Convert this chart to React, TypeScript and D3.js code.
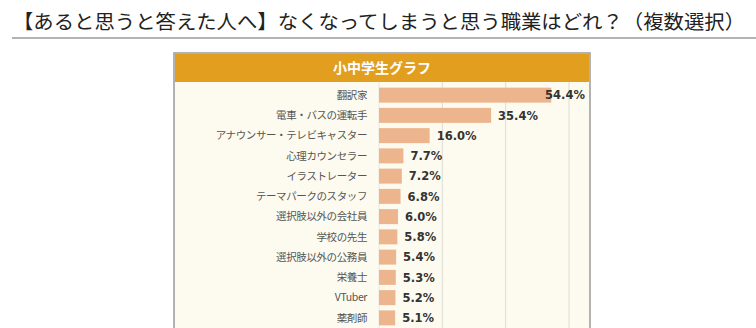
import React from "react";
import * as d3 from "d3";

const title = "【あると思うと答えた人へ】なくなってしまうと思う職業はどれ？（複数選択）";
const panelTitle = "小中学生グラフ";
const categories = [
  "翻訳家",
  "電車・バスの運転手",
  "アナウンサー・テレビキャスター",
  "心理カウンセラー",
  "イラストレーター",
  "テーマパークのスタッフ",
  "選択肢以外の会社員",
  "学校の先生",
  "選択肢以外の公務員",
  "栄養士",
  "VTuber",
  "薬剤師",
];
const values = [54.4, 35.4, 16.0, 7.7, 7.2, 6.8, 6.0, 5.8, 5.4, 5.3, 5.2, 5.1];
const gridTicks = [20, 40, 60];

const W = 756;
const H = 328;
const panelL = 174;
const panelR = 590;
const panelT = 53;
const headerH = 29;

export default function App() {
  const x = d3.scaleLinear().domain([0, 60]).range([379, 569]);
  const y = d3
    .scaleBand<string>()
    .domain(categories)
    .range([85, 85 + 20.25 * categories.length])
    .paddingInner(0.26)
    .paddingOuter(0.13);
  const font = "'Noto Sans CJK JP', 'Noto Sans', sans-serif";
  const numFont = "'DejaVu Sans', Verdana, sans-serif";
  return (
    <svg
      width={W}
      height={H}
      style={{ position: "absolute", left: 0, top: 0, background: "#fff" }}
    >
      <text x={13} y={29} fontFamily={font} fontSize={19.6} fill="#222" textLength={732} lengthAdjust="spacingAndGlyphs">
        {title}
      </text>
      <line x1={12} x2={756} y1={38} y2={38} stroke="#9a9a9a" strokeWidth={1.6} />

      <rect x={panelL} y={panelT} width={panelR - panelL} height={H} fill="#fdfbef" stroke="#a0a0a0" strokeWidth={1.6} />
      <rect x={panelL + 1} y={panelT + 1} width={panelR - panelL - 2} height={headerH - 1} fill="#e19e1f" />
      <text
        x={(panelL + panelR) / 2}
        y={panelT + 19.5}
        textAnchor="middle"
        fontFamily={font}
        fontWeight={700}
        fontSize={14}
        fill="#fff"
      >
        {panelTitle}
      </text>

      {gridTicks.map((t) => (
        <line key={t} x1={x(t)} x2={x(t)} y1={panelT + headerH} y2={H} stroke="#dcdcd4" strokeWidth={1} />
      ))}
      <line x1={x(0)} x2={x(0)} y1={panelT + headerH} y2={H} stroke="#e8e8e0" strokeWidth={1} />

      {categories.map((c, i) => {
        const v = values[i];
        const yy = y(c)!;
        const bw = y.bandwidth();
        const xe = x(v);
        const label = v.toFixed(1) + "%";
        const estW = 39;
        const overflow = xe + 7 + estW > panelR - 4;
        return (
          <g key={c}>
            <text
              x={367}
              y={yy + bw / 2}
              dy="0.36em"
              textAnchor="end"
              fontFamily={font}
              fontSize={10.5}
              letterSpacing={-0.4}
              fill="#555"
            >
              {c}
            </text>
            <rect x={x(0)} y={yy} width={xe - x(0)} height={bw} fill="#edb58d" />
            <text
              x={overflow ? panelR - 5 : xe + 7}
              y={yy + bw / 2}
              dy="0.36em"
              textAnchor={overflow ? "end" : "start"}
              fontFamily={numFont}
              fontWeight={700}
              fontSize={11.5}
              fill="#333"
            >
              {label}
            </text>
          </g>
        );
      })}
    </svg>
  );
}
